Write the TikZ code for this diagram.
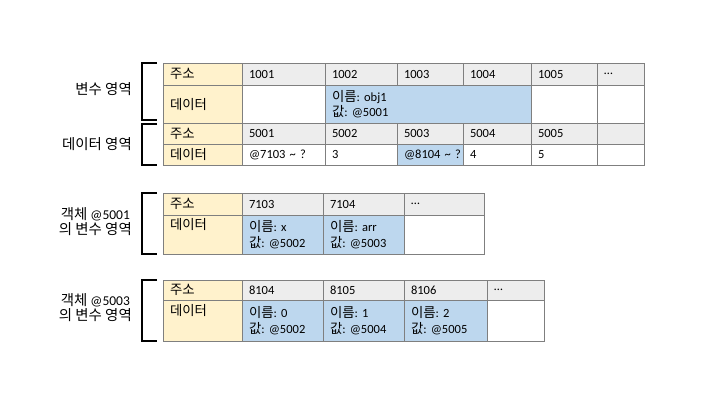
\documentclass[tikz,border=0pt]{standalone}
\usepackage{fontspec}
\setmainfont{Carlito}
\newfontfamily\kr{Noto Sans CJK KR}[Scale=1.07]
\usetikzlibrary{positioning}
\frenchspacing

\definecolor{gridgray}{HTML}{7F7F7F}
\definecolor{addrgray}{HTML}{EDEDED}
\definecolor{keyyellow}{HTML}{FFF2CC}
\definecolor{valblue}{HTML}{BDD7EE}

\tikzset{
  cell/.style={draw=gridgray, line width=.75pt, anchor=north west, inner xsep=7pt,
    inner ysep=0pt, outer sep=0pt, align=left, font=\fontsize{12.5}{15.5}\selectfont},
  wd/.style={minimum width=#1, text width=#1-14pt},
  addr/.style={cell, fill=addrgray},
  key/.style={cell, fill=keyyellow, wd=79pt},
  brace/.style={line width=1.6pt},
  lbl/.style={align=center, inner sep=0pt, font=\fontsize{13.5}{15.5}\selectfont},
}

\begin{document}
\begin{tikzpicture}[x=1pt, y=-1pt]
  \useasboundingbox (0,0) rectangle (720,405);

  % variable area
  \node[key, minimum height=22pt] (aA0) at (163,63) {{\kr 주소}};
  \foreach \w/\t [count=\i, evaluate=\i as \j using int(\i-1)] in
    {83pt/1001, 72pt/1002, 66pt/1003, 68pt/1004, 66pt/1005, 47pt/…}
    \node[addr, wd=\w, minimum height=22pt, right=0pt of aA\j] (aA\i) {\t};
  \node[key, minimum height=38pt, below=0pt of aA0] (dA0) {{\kr 데이터}};
  \node[cell, fill=white, wd=83pt, minimum height=38pt, right=0pt of dA0] (dA1) {};
  \node[cell, fill=valblue, wd=206pt, minimum height=38pt, right=0pt of dA1] (dA2)
    {{\kr 이름}: obj1\\{\kr 값}: @5001};
  \node[cell, fill=white, wd=66pt, minimum height=38pt, right=0pt of dA2] (dA3) {};
  \node[cell, fill=white, wd=47pt, minimum height=38pt, right=0pt of dA3] (dA4) {};

  % data area
  \node[key, minimum height=21pt, below=0pt of dA0] (aB0) {{\kr 주소}};
  \foreach \w/\t [count=\i, evaluate=\i as \j using int(\i-1)] in
    {83pt/5001, 72pt/5002, 66pt/5003, 68pt/5004, 66pt/5005, 47pt/{}}
    \node[addr, wd=\w, minimum height=21pt, right=0pt of aB\j] (aB\i) {\t};
  \node[key, minimum height=21pt, below=0pt of aB0] (dB0) {{\kr 데이터}};
  \foreach \f/\w/\t [count=\i, evaluate=\i as \j using int(\i-1)] in
    {white/83pt/{@7103 \textasciitilde\ ?}, white/72pt/3,
     valblue/66pt/{\mbox{@8104 \textasciitilde\ ?}}, white/68pt/4, white/66pt/5, white/47pt/{}}
    \node[cell, fill=\f, wd=\w, minimum height=21pt, right=0pt of dB\j] (dB\i) {\t};

  % object @5001
  \node[key, minimum height=22pt] (aC0) at (163,193) {{\kr 주소}};
  \foreach \w/\t [count=\i, evaluate=\i as \j using int(\i-1)] in
    {81pt/7103, 81pt/7104, 80pt/…}
    \node[addr, wd=\w, minimum height=22pt, right=0pt of aC\j] (aC\i) {\t};
  \node[key, minimum height=39pt, below=0pt of aC0] (dC0) {{\kr 데이터}\\\strut};
  \foreach \f/\w/\t [count=\i, evaluate=\i as \j using int(\i-1)] in
    {valblue/81pt/{{\kr 이름}: x\\{\kr 값}: @5002},
     valblue/81pt/{{\kr 이름}: arr\\{\kr 값}: @5003}, white/80pt/{}}
    \node[cell, fill=\f, wd=\w, minimum height=39pt, right=0pt of dC\j] (dC\i) {\t};

  % object @5003
  \node[key, minimum height=20pt] (aD0) at (163,280) {{\kr 주소}};
  \foreach \w/\t [count=\i, evaluate=\i as \j using int(\i-1)] in
    {81pt/8104, 81pt/8105, 83pt/8106, 57pt/…}
    \node[addr, wd=\w, minimum height=20pt, right=0pt of aD\j] (aD\i) {\t};
  \node[key, minimum height=41pt, below=0pt of aD0] (dD0) {{\kr 데이터}\\\strut};
  \foreach \f/\w/\t [count=\i, evaluate=\i as \j using int(\i-1)] in
    {valblue/81pt/{{\kr 이름}: 0\\{\kr 값}: @5002},
     valblue/81pt/{{\kr 이름}: 1\\{\kr 값}: @5004},
     valblue/83pt/{{\kr 이름}: 2\\{\kr 값}: @5005}, white/57pt/{}}
    \node[cell, fill=\f, wd=\w, minimum height=41pt, right=0pt of dD\j] (dD\i) {\t};

  % brackets and labels
  \draw[brace] ([xshift=-6pt]aA0.north west) -- ++(-15,0) -- coordinate (bA) ++(0,57) -- ++(15,0);
  \draw[brace] ([xshift=-6pt,yshift=-1pt]aB0.north west) -- ++(-15,0) -- coordinate (bB) ++(0,41) -- ++(15,0);
  \draw[brace] ([xshift=-6pt]aC0.north west) -- ++(-15,0) -- coordinate (bC) ++(0,61) -- ++(15,0);
  \draw[brace] ([xshift=-6pt]aD0.north west) -- ++(-15,0) -- coordinate (bD) ++(0,61) -- ++(15,0);

  \node[lbl, left=10pt of bA, yshift=2pt] (lA) {{\kr 변수 영역}};
  \node[lbl, left=10pt of bB] (lB) {{\kr 데이터 영역}};
  \node[lbl, left=10pt of bC, yshift=2pt] (lC) {{\kr 객체} @5001\\{\kr 의 변수 영역}};
  \node[lbl, left=10pt of bD, yshift=3pt] (lD) {{\kr 객체} @5003\\{\kr 의 변수 영역}};
\end{tikzpicture}
\end{document}
